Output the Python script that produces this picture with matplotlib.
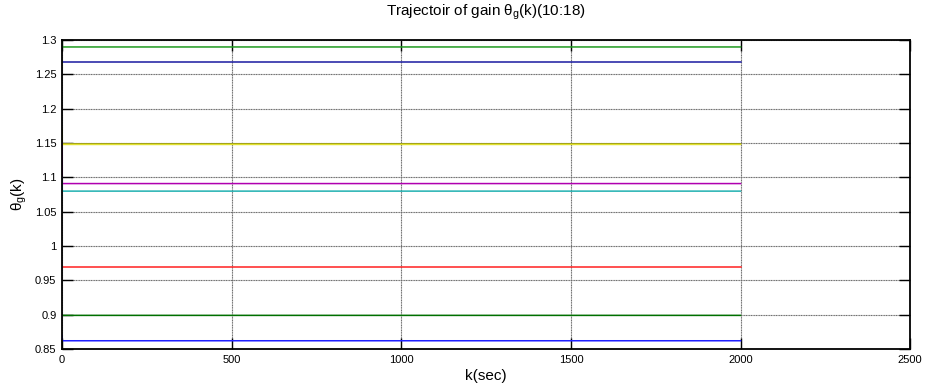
import numpy as np
import matplotlib
matplotlib.use('Agg')
import matplotlib.pyplot as plt

plt.rcParams['font.family'] = ['Liberation Sans', 'DejaVu Sans']
plt.rcParams['mathtext.fontset'] = 'custom'
plt.rcParams['mathtext.rm'] = 'Liberation Sans'
plt.rcParams['mathtext.it'] = 'Liberation Sans'
plt.rcParams['mathtext.sf'] = 'Liberation Sans'

# gain trajectories theta_g(k), elements 10..18
k_steps = [0, 1, 2000]
theta_start = [1.300, 1.268, 1.170, 1.150, 1.150, 1.100, 0.969, 0.900, 0.870]
theta_final = [1.290, 1.268, 1.149, 1.148, 1.091, 1.080, 0.969, 0.899, 0.862]
line_colors = ['#1f9a1f', '#1a1aa0', '#8a8a10', '#e0e030', '#b000b0',
               '#20b0b0', '#ff2020', '#007000', '#2020ff']

fig = plt.figure(figsize=(9.25, 3.92), dpi=100)
ax = fig.add_axes([0.067, 0.1097, 0.917, 0.788])

for i in range(len(theta_final)):
    y = [theta_start[i], theta_final[i], theta_final[i]]
    ax.plot(k_steps, y, color=line_colors[i], linewidth=1.1)

ax.set_xlim(0, 2500)
ax.set_ylim(0.85, 1.3)
ax.set_xticks(np.arange(0, 2501, 500))
ax.set_yticks(np.arange(0.85, 1.301, 0.05))
ax.set_xticklabels(['0', '500', '1000', '1500', '2000', '2500'])
ax.set_yticklabels(['0.85', '0.9', '0.95', '1', '1.05', '1.1', '1.15', '1.2', '1.25', '1.3'])
ax.grid(True, color='#6a6a6a', linestyle=(0, (1, 0.5)), linewidth=0.8)
ax.tick_params(direction='in', length=8, width=1.0, labelsize=8, top=True, right=True,
               labeltop=False, labelright=False, pad=4)
for s in ax.spines.values():
    s.set_linewidth(1.3)

ax.set_title(r'Trajectoir of gain $\theta_{g}$(k)(10:18)', fontsize=11, pad=18)
ax.set_xlabel('k(sec)', fontsize=11, labelpad=3)
ax.set_ylabel(r'$\theta_{g}$(k)', fontsize=11, labelpad=4)

fig.savefig('out.png', dpi=100)
